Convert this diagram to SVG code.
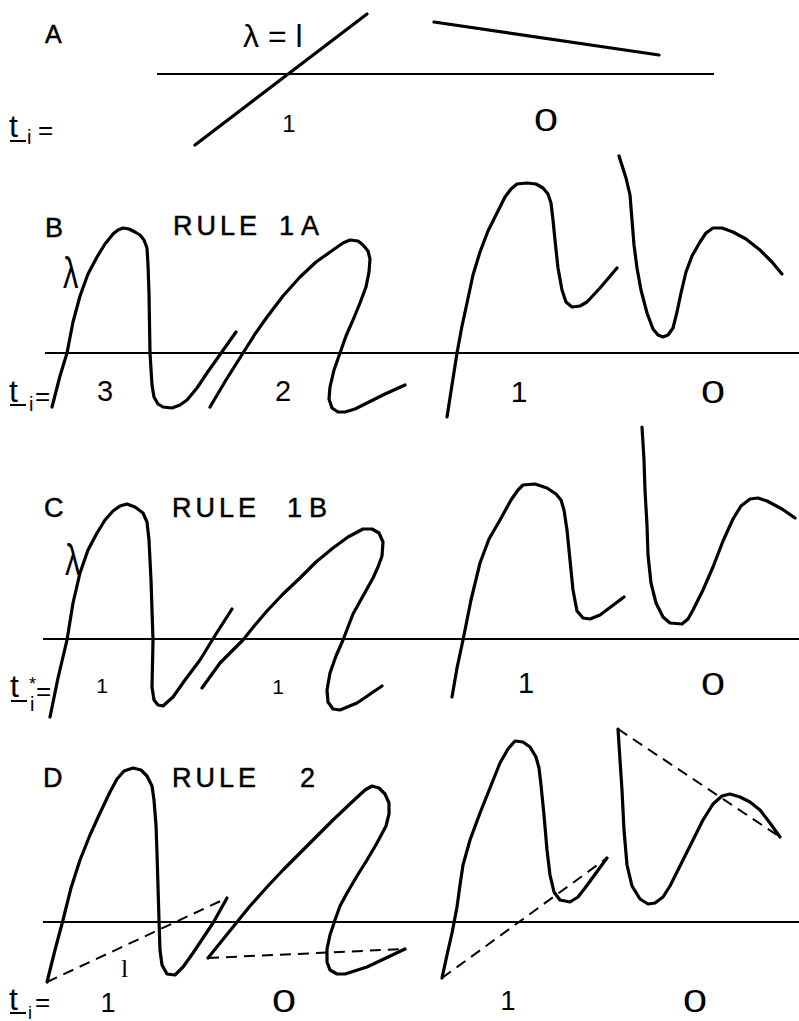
<svg xmlns="http://www.w3.org/2000/svg" width="799" height="1021" viewBox="0 0 799 1021">
<style>
.ax{stroke:#000;stroke-width:2;fill:none}
.cv{stroke:#000;stroke-width:3.2;fill:none;stroke-linejoin:round;stroke-linecap:round}
.ds{stroke:#000;stroke-width:2;fill:none;stroke-dasharray:11 7}
.f{font-family:"Liberation Sans",Arial,sans-serif;fill:#000}
.lb{font-size:27px;stroke:#000;stroke-width:0.5}
.rule{font-size:27px;letter-spacing:4px;stroke:#000;stroke-width:0.5}
.num{font-size:29px;text-anchor:middle}
.zero{font-size:32px;text-anchor:middle}
.t{font-size:32px}
.lam{font-size:44px}
</style>
<rect width="799" height="1021" fill="#fff"/>

<!-- Panel A -->
<g id="panelA">
<text class="f lb" x="45" y="43" style="font-size:25px">A</text>
<text class="f" x="243" y="47" style="font-size:32px">λ = l</text>
<line class="ax" x1="157" y1="74" x2="714" y2="74"/>
<line class="cv" x1="195" y1="145" x2="367" y2="14"/>
<line class="cv" x1="434" y1="22" x2="659" y2="55"/>
<text class="f t" x="9" y="137">t<tspan x="27" y="144" font-size="20">i</tspan><tspan x="38" y="139" font-size="26">=</tspan></text>
<line class="ax" x1="10" y1="141" x2="26" y2="141"/>
<text class="f num" x="289" y="132" style="font-size:24px">1</text>
<text class="f zero" transform="translate(546,131) scale(1.35,1)">0</text>
</g>

<!-- Panel B -->
<g id="panelB">
<text class="f lb" x="45" y="237">B</text>
<text class="f rule" y="235"><tspan x="173">RULE</tspan> <tspan x="279">1</tspan><tspan x="301">A</tspan></text>
<text class="f lam" transform="translate(63,288) scale(0.7,1)">λ</text>
<line class="ax" x1="45" y1="353" x2="799" y2="353"/>
<polyline class="cv" points="52,407 60,376 67,353 73,322 80,296 88,274 97,257 105,244 113,234 118,230 123,228 129,229 135,232 140,235 144,240 147,248 148,265 149,293 150,353 152,385 154,397 158,404 163,407 172,408 180,405 187,400 197,388 207,373 236,332"/>
<polyline class="cv" points="210,407 226,380 243,353 255,334 267,317 283,296 300,277 316,262 333,250 343,243 350,240 358,241 363,245 368,251 370,259 369,272 366,287 360,303 353,320 346,336 340,353 334,370 330,387 329,399 332,408 338,412 345,412 355,409 367,403 385,394 405,385"/>
<polyline class="cv" points="447,417 452,385 457,353 462,326 467,303 473,275 480,252 488,231 497,213 505,197 511,189 517,184 527,183 536,184 543,188 548,194 551,203 553,220 555,240 558,268 562,290 566,302 572,307 580,306 587,302 600,288 617,268"/>
<polyline class="cv" points="619,156 626,178 630,195 632,220 634,245 637,268 641,290 647,313 653,329 658,335 663,337 668,335 673,328 677,312 681,293 686,272 692,256 700,242 706,233 713,228 722,228 733,232 746,239 760,250 772,262 782,274"/>
<text class="f t" x="9" y="402">t<tspan x="29" y="411" font-size="20">i</tspan><tspan x="35" y="405" font-size="26">=</tspan></text>
<line class="ax" x1="10" y1="405" x2="26" y2="405"/>
<text class="f num" x="105" y="401">3</text>
<text class="f num" x="283" y="401">2</text>
<text class="f num" x="519" y="402" style="font-size:30px">1</text>
<text class="f zero" transform="translate(713,403) scale(1.35,1)">0</text>
</g>

<!-- Panel C -->
<g id="panelC">
<text class="f lb" x="44" y="517">C</text>
<text class="f rule" y="517"><tspan x="172">RULE</tspan> <tspan x="287">1</tspan><tspan x="309">B</tspan></text>
<text class="f lam" transform="translate(65,575) scale(0.7,1)">λ</text>
<line class="ax" x1="43" y1="639" x2="799" y2="639"/>
<polyline class="cv" points="50,717 58,678 67,640 73,603 80,573 88,550 97,533 105,520 113,511 120,506 127,504 135,507 143,513 147,522 149,540 151,580 153,640 152,687 154,700 158,705 163,706 173,697 185,680 200,660 216,634 232,609"/>
<polyline class="cv" points="202,688 220,663 243,640 255,625 267,611 283,594 300,578 316,562 333,548 348,537 363,529 372,529 379,533 383,542 382,556 378,567 373,578 363,596 353,614 343,640 336,656 330,673 327,690 328,702 333,709 340,710 357,703 382,686"/>
<polyline class="cv" points="452,697 457,668 463,640 471,600 480,563 489,539 500,520 511,500 518,490 523,485 535,484 547,488 556,494 561,500 564,510 567,530 570,560 573,590 577,611 583,618 590,619 600,615 612,606 624,597"/>
<polyline class="cv" points="642,427 644,460 645,490 647,525 648,555 651,583 656,603 663,617 670,623 682,624 688,619 693,610 703,590 713,567 723,541 733,519 741,506 750,499 758,498 767,501 782,509 795,518"/>
<text class="f t" x="10" y="697">t<tspan x="29" y="690" font-size="18">*</tspan><tspan x="30" y="711" font-size="20">i</tspan><tspan x="36" y="700" font-size="26">=</tspan></text>
<line class="ax" x1="11" y1="701" x2="27" y2="701"/>
<text class="f num" x="102" y="693" style="font-size:21px">1</text>
<text class="f num" x="278" y="694" style="font-size:21px">1</text>
<text class="f num" x="526" y="693" style="font-size:29px">1</text>
<text class="f zero" transform="translate(713,695) scale(1.35,1)">0</text>
</g>

<!-- Panel D -->
<g id="panelD">
<text class="f lb" x="43" y="787">D</text>
<text class="f rule" y="787"><tspan x="172">RULE</tspan> <tspan x="300">2</tspan></text>
<line class="ax" x1="43" y1="922" x2="799" y2="922"/>
<polyline class="cv" points="47,982 55,950 63,920 71,888 80,860 90,835 100,813 110,792 117,779 124,771 133,768 141,770 147,776 152,786 154,800 156,825 157,853 159,920 160,950 162,965 167,974 175,975 183,967 193,953 213,923 227,898"/>
<polyline class="cv" points="208,958 233,927 250,906 267,887 283,870 300,853 317,836 333,820 352,802 365,790 372,786 379,788 385,794 389,803 389,814 386,826 377,843 367,860 357,876 347,893 340,906 335,920 330,935 327,949 327,962 330,970 337,974 345,974 367,967 405,949"/>
<polyline class="cv" points="442,978 447,955 452,933 457,907 460,885 463,865 470,840 480,813 490,788 500,763 508,749 515,741 523,742 530,747 536,757 539,768 541,785 544,815 547,850 550,875 554,892 560,900 570,902 578,897 585,888 607,858"/>
<polyline class="cv" points="618,729 620,760 622,790 624,830 627,865 632,886 640,899 648,904 655,903 663,897 670,886 680,866 693,840 703,820 713,804 722,796 730,794 740,797 750,802 760,810 770,823 780,837"/>
<line class="ds" x1="47" y1="982" x2="227" y2="898"/>
<line class="ds" x1="208" y1="958" x2="405" y2="949"/>
<line class="ds" x1="442" y1="978" x2="607" y2="858"/>
<line class="ds" x1="618" y1="729" x2="780" y2="837"/>
<text class="f" x="121" y="977" style="font-family:'Liberation Serif',serif;font-size:26px">l</text>
<text class="f t" x="9" y="1010">t<tspan x="28" y="1019" font-size="18">i</tspan><tspan x="35" y="1011" font-size="26">=</tspan></text>
<line class="ax" x1="10" y1="1013" x2="26" y2="1013"/>
<text class="f num" x="108" y="1012" style="font-size:27px">1</text>
<text class="f zero" transform="translate(284,1012) scale(1.35,1)">0</text>
<text class="f num" x="508" y="1010" style="font-size:27px">1</text>
<text class="f zero" transform="translate(695,1012) scale(1.35,1)">0</text>
</g>
</svg>
